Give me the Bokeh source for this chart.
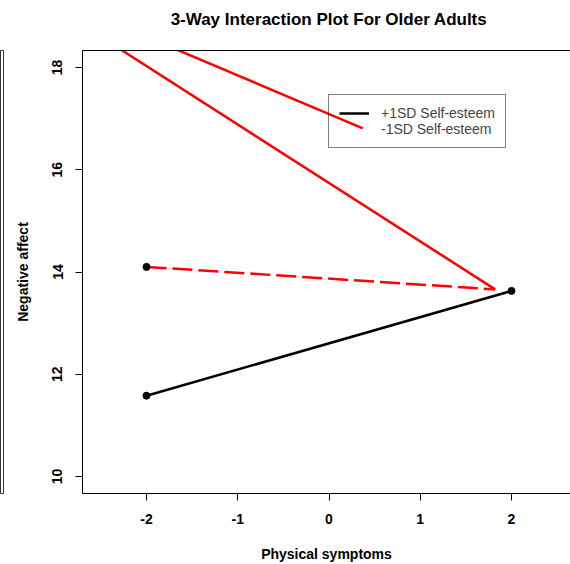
from bokeh.plotting import figure
from bokeh.models import LinearAxis, FixedTicker, Legend, LegendItem, Range1d
from bokeh.core.properties import value
from bokeh.layouts import row, column
from bokeh.embed import file_html
from bokeh.resources import INLINE

# Predicted negative affect at low / high physical symptoms
x_levels = [-2, 2]
high_se_y = [11.58, 13.63]            # +1SD self-esteem (black)
low_se_dash_x = [-2, 1.82]
low_se_dash_y = [14.10, 13.66]        # -1SD self-esteem (red dashed)
red_steep_x = [-2.5, 1.82]
red_steep_y = [18.60, 13.66]
red_shallow_x = [-2.0, 0.37]
red_shallow_y = [18.60, 16.81]
point_x = [-2, -2, 2]
point_y = [11.58, 14.10, 13.63]

x_ticks = [-2, -1, 0, 1, 2]
y_ticks = [10, 12, 14, 16, 18]
legend_labels = ["+1SD Self-esteem", "-1SD Self-esteem"]
title_text = "3-Way Interaction Plot For Older Adults"

FONT = "Liberation Sans"
RED = "#FF0000"
TOP_H = 48      # height of the title strip
BODY_H = 564 - TOP_H

# title strip across the top
head = figure(width=570, height=TOP_H, output_backend="svg",
              toolbar_location=None, x_range=Range1d(0, 570),
              y_range=Range1d(0, TOP_H), min_border=0,
              x_axis_type=None, y_axis_type=None)
head.outline_line_color = None
head.grid.visible = False
head.text(x=[328.5], y=[TOP_H - 18.5], text=[title_text], text_align="center",
          text_baseline="middle", text_font=value(FONT),
          text_font_size="17px", text_font_style="bold", text_color="black")

# neighbouring panel, only its right edge is visible
side = figure(width=4, height=BODY_H, output_backend="svg",
              toolbar_location=None, min_border_left=0, min_border_right=0,
              min_border_top=2, min_border_bottom=71,
              x_axis_type=None, y_axis_type=None)
side.outline_line_color = "#333333"
side.outline_line_width = 1
side.grid.visible = False
side.x_range = Range1d(0, 1)
side.y_range = Range1d(0, 1)

p = figure(width=566, height=BODY_H, output_backend="svg",
           toolbar_location=None,
           x_range=Range1d(-2.7014, 2.6466), y_range=Range1d(9.667, 18.333),
           min_border_left=78, min_border_right=0, min_border_top=2,
           min_border_bottom=71)
p.outline_line_color = None
p.grid.visible = False

xa = p.xaxis[0]
xa.ticker = FixedTicker(ticks=x_ticks)
xa.major_label_overrides = {t: str(t) for t in x_ticks}
xa.axis_label = "Physical symptoms"
ya = p.yaxis[0]
ya.ticker = FixedTicker(ticks=y_ticks)
ya.major_label_overrides = {t: str(t) for t in y_ticks}
ya.axis_label = "Negative affect"
ya.major_label_orientation = "vertical"
for ax in (xa, ya):
    ax.axis_line_color = "black"
    ax.axis_line_width = 1
    ax.major_tick_in = 0
    ax.major_tick_out = 7
    ax.minor_tick_out = 0
    ax.minor_tick_in = 0
    ax.major_tick_line_color = "black"
    ax.major_label_text_font = FONT
    ax.major_label_text_font_size = "14px"
    ax.major_label_text_font_style = "bold"
    ax.major_label_text_color = "black"
    ax.axis_label_text_font = FONT
    ax.axis_label_text_font_size = "14px"
    ax.axis_label_text_font_style = "bold"
    ax.axis_label_text_color = "black"
xa.major_label_standoff = 13
xa.axis_label_standoff = 19
ya.major_label_standoff = 13
ya.axis_label_standoff = 19

# top edge of the box
top = LinearAxis(ticker=FixedTicker(ticks=[]), major_tick_out=0, major_tick_in=0,
                 minor_tick_out=0, axis_line_color="black",
                 major_label_standoff=0, axis_label_standoff=0,
                 major_label_text_font_size="0px")
p.add_layout(top, "above")

r_black = p.line(x_levels, high_se_y, line_color="black", line_width=2.5)
p.line(low_se_dash_x, low_se_dash_y, line_color=RED, line_width=2.5,
       line_dash="20 6")
p.line(red_steep_x, red_steep_y, line_color=RED, line_width=2.5)
p.line(red_shallow_x, red_shallow_y, line_color=RED, line_width=2.5)
p.scatter(point_x, point_y, size=7, color="black")

r_blank = p.line(x=[], y=[], line_alpha=0)
legend = Legend(items=[LegendItem(label=legend_labels[0], renderers=[r_black]),
                       LegendItem(label=legend_labels[1], renderers=[r_blank])],
                location=(246, 345), padding=10, spacing=0, margin=0,
                glyph_width=30, glyph_height=16, label_height=16,
                label_standoff=12, label_text_font=FONT,
                label_text_font_size="14px", border_line_color="black",
                border_line_width=1, background_fill_alpha=0)
p.add_layout(legend, "center")

layout = column(head, row(side, p, spacing=0), spacing=0)
open("out.html", "w").write(file_html(layout, INLINE))
